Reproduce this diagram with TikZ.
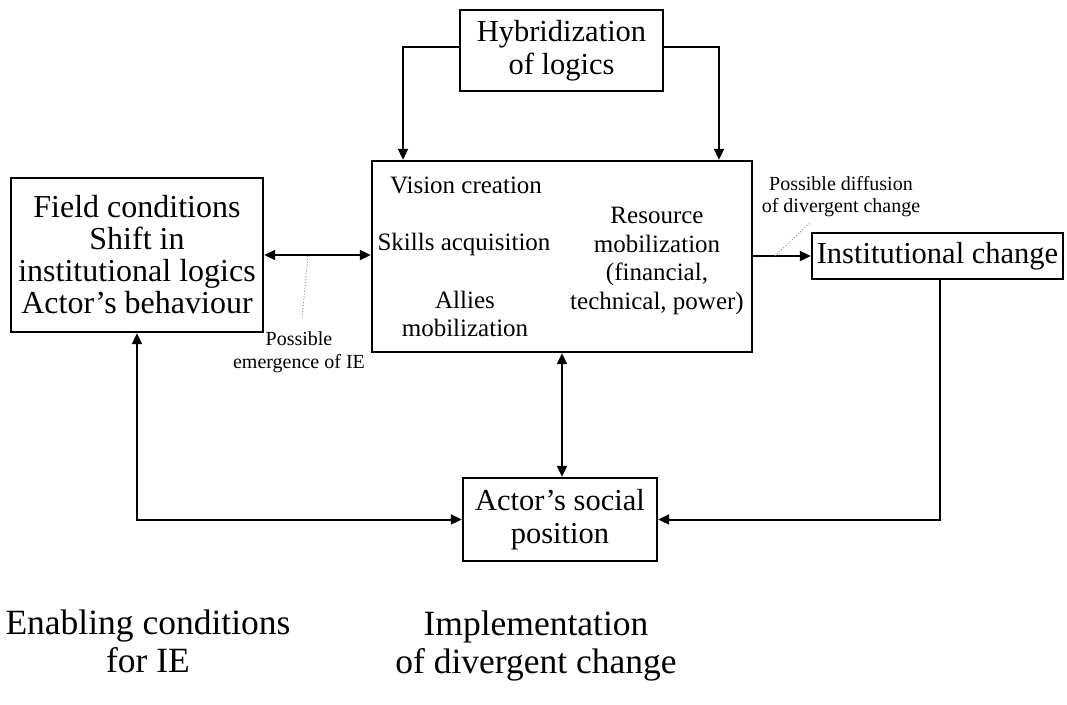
\documentclass[tikz,border=0pt]{standalone}
\usepackage{fontspec}
\setmainfont{Liberation Serif}
\usetikzlibrary{arrows.meta}
\begin{document}
\begin{tikzpicture}[x=1pt,y=-1pt,
  box/.style={draw, line width=2.4pt, inner sep=0pt, align=center},
  txt/.style={inner sep=0pt, align=center},
  tip/.tip={Triangle[length=11pt,width=10pt]},
  link/.style={line width=2pt, -tip},
  twoway/.style={line width=2pt, tip-tip},
  hint/.style={gray, dotted, line width=0.9pt},
  huge/.style={font=\fontsize{35.5}{38}\selectfont},
  big/.style={font=\fontsize{32}{32}\selectfont},
  mid/.style={font=\fontsize{30.5}{33}\selectfont},
  body/.style={font=\fontsize{25}{28.5}\selectfont},
  small/.style={font=\fontsize{20}{22.5}\selectfont}
]
\useasboundingbox (0,0) rectangle (1067,704);

% boxes
\node[box, mid, minimum width=203pt, minimum height=81pt] (hyb) at (561.5,50.5)
  {Hybridization\\of logics};
\node[box, minimum width=380pt, minimum height=191pt] (core) at (562,256.5) {};
\node[box, big, minimum width=252pt, minimum height=154pt] (field) at (137,255)
  {Field conditions\\Shift in\\institutional logics\\Actor’s behaviour};
\node[box, mid, minimum width=251pt, minimum height=46pt] (inst) at (937.5,256)
  {Institutional change};
\node[box, mid, minimum width=194pt, minimum height=83pt] (social) at (560,519.5)
  {Actor’s social\\position};

% contents of the central box
\node[txt, body, anchor=base] (vision) at (466,193) {Vision creation};
\node[txt, body, anchor=base] (skills) at (464,250) {Skills acquisition};
\node[txt, body] (allies) at (465,314) {Allies\\mobilization};
\node[txt, body] (resource) at (657,261)
  {Resource\\mobilization\\(financial,\\technical, power)};

% small annotations
\node[txt, small] (emerge) at (299,352) {Possible\\emergence of IE};
\node[txt, small] (diffuse) at (841,196.5) {Possible diffusion\\of divergent change};

% phase captions
\node[txt, huge] (enabling) at (148,641) {Enabling conditions\\for IE};
\node[txt, huge] (implement) at (536,646) {Implementation\\of divergent change};

% connectors
\draw[link] ([yshift=3.5pt]hyb.west) -| ([xshift=-159pt]core.north);
\draw[link] ([yshift=3.5pt]hyb.east) -| ([xshift=157pt]core.north);
\draw[twoway] (field.east) -- (field.east -| core.west);
\draw[link] (core.east |- inst.west) -- (inst.west);
\draw[twoway] (core.south) -- (core.south |- social.north);
\draw[twoway] (field.south) |- (social.west);
\draw[link] ([xshift=2.5pt]inst.south) |- (social.east);

% dotted pointers from the arrows to their notes
\coordinate (p1) at (308,256);
\coordinate (q1) at (302,318);
\draw[hint] (p1) -- (q1);
\coordinate (p2) at (775,256);
\coordinate (q2) at (810,223);
\draw[hint] (p2) -- (q2);
\end{tikzpicture}
\end{document}
